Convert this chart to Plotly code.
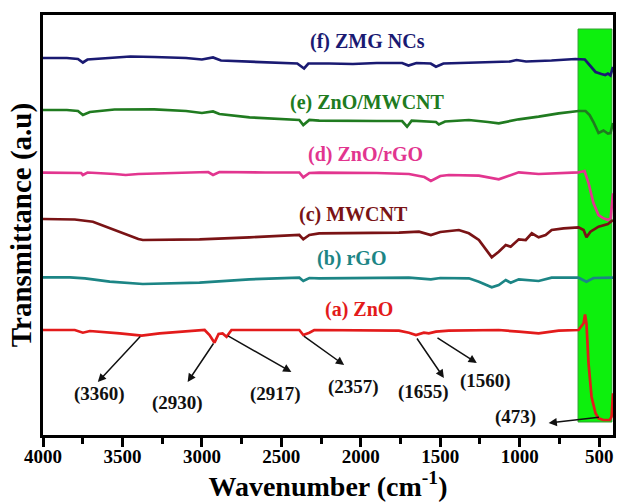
import plotly.graph_objects as go

# FTIR spectra (stacked, arbitrary transmittance units)
a_wn = [4000, 3800, 3749, 3705, 3517, 3379, 3266, 3077, 2983, 2952, 2921, 2895, 2870, 2845, 2814,
        2387, 2362, 2324, 2293, 1760, 1697, 1653, 1603, 1572, 1527, 1446, 1132, 1006, 881, 755,
        630, 598, 589, 580, 567, 548, 523, 504, 473, 433, 422, 413]
a_t = [105, 105, 102.3, 104, 101.7, 99.3, 101.7, 104.3, 105, 100, 92.3, 101, 101.5, 98.3, 105,
       105, 100, 102.3, 105, 104.3, 102.3, 100, 102.3, 101.7, 103.3, 104.3, 105, 103.3, 101.7, 104.3,
       105, 111.7, 120.5, 111.7, 71.7, 38.3, 21.7, 16.7, 15, 15, 18.3, 41.7]

b_wn = [4000, 3831, 3736, 3580, 3372, 3015, 2701, 2387, 2362, 2324, 2262, 1697, 1559, 1500, 1320,
        1257, 1176, 1132, 1088, 1057, 1006, 881, 799, 630, 580, 536, 413]
b_t = [157.7, 157.7, 156.7, 153.3, 151, 152.3, 155.7, 157.3, 154, 157, 156.7, 157.3, 155.7, 157, 156.7,
       153.3, 147.7, 150, 155, 152.3, 155.7, 154, 157.3, 157.3, 153.3, 157, 157.3]

c_wn = [4000, 3800, 3686, 3580, 3480, 3400, 3372, 3015, 2701, 2387, 2362, 2324, 2262, 1760, 1634,
        1559, 1500, 1383, 1320, 1257, 1176, 1132, 1088, 1057, 1006, 962, 924, 881, 837, 799, 724,
        630, 598, 580, 555, 504, 445, 413]
c_t = [216, 215.5, 213.3, 207, 200.5, 196, 195, 195.7, 197.7, 200, 195.7, 200, 201.7, 202.3, 203.3,
       200, 203, 205, 201.7, 195, 177.7, 183.3, 190, 188.3, 195.7, 195, 201.7, 197.7, 200, 205, 206.7,
       207.7, 205, 197.7, 203.3, 208.3, 211, 215]

d_wn = [4000, 3850, 3760, 3749, 3720, 3550, 3480, 3400, 3100, 2960, 2930, 2890, 2600, 2387, 2362,
        2324, 2262, 1900, 1697, 1600, 1559, 1500, 1446, 1257, 1132, 1060, 1006, 881, 700, 630, 592,
        567, 536, 504, 473, 445, 428, 413]
d_t = [262.3, 262.5, 262, 260, 262.5, 261, 260, 261, 262, 263, 260, 263, 262.5, 262.5, 257.7,
       262, 262.3, 262, 261, 258, 254, 259, 260, 259.3, 255.7, 260, 262.7, 261, 262, 262.7, 264,
       252, 232, 220, 216.7, 215, 216.7, 241.7]

e_wn = [4000, 3850, 3780, 3749, 3705, 3550, 3300, 3100, 3000, 2930, 2890, 2700, 2387, 2362, 2324,
        2262, 1900, 1740, 1709, 1680, 1527, 1509, 1470, 1320, 1200, 1132, 1006, 881, 755, 630, 586,
        560, 536, 504, 473, 445, 429, 413]
e_t = [325, 325, 324, 320, 323, 325.5, 325.7, 324, 322, 323.5, 321, 317.7, 315, 310, 315,
       314.3, 314, 314, 308.3, 314.3, 313, 310.5, 313.5, 315, 313, 311.7, 315.7, 318.3, 321.7, 324, 324,
       320, 313, 302, 304.5, 301.5, 302, 312]

f_wn = [4000, 3850, 3780, 3749, 3720, 3600, 3450, 3300, 3100, 3000, 2930, 2880, 2700, 2400, 2357,
        2330, 2200, 2050, 1900, 1740, 1700, 1650, 1560, 1527, 1480, 1300, 1150, 1060, 1020, 960,
        800, 650, 590, 560, 523, 486, 462, 445, 429, 413]
f_t = [377, 377, 376, 372.5, 375.5, 377, 378.5, 378, 377, 375.5, 377.5, 374.5, 373.5, 371.5, 366.5,
       371.5, 371.5, 371, 372, 372, 369.5, 372, 371.5, 368.3, 371.5, 372.5, 372.7, 373.5, 375, 373.5,
       374.5, 376, 375.5, 370, 363, 361, 360, 361.5, 359.5, 368]

series_names = ["(a) ZnO", "(b) rGO", "(c) MWCNT", "(d) ZnO/rGO", "(e) ZnO/MWCNT", "(f) ZMG NCs"]
series_colors = ["#e31b1b", "#1c8585", "#7a1315", "#e2358f", "#207b20", "#1a1a72"]
series_wn = [a_wn, b_wn, c_wn, d_wn, e_wn, f_wn]
series_t = [a_t, b_t, c_t, d_t, e_t, f_t]

# label anchor for each spectrum name (wavenumber, transmittance)
label_wn = [2011, 2061, 2048, 1973, 1960, 1960]
label_t = [126, 177, 221, 281, 333, 394]

# band assignments: label text, label position, arrow tail (on curve), arrow head
band_text = ["(3360)", "(2930)", "(2917)", "(2357)", "(1655)", "(1560)", "(473)"]
band_label_wn = [3642, 3153, 2538, 2048, 1603, 1213, 1025]
band_label_t = [41, 32.5, 41, 48, 43, 54, 18]
band_tail_wn = [3379, 2921, 2845, 2368, 1653, 1527, 492]
band_tail_t = [100, 93, 100, 100, 98, 98, 18]
band_head_wn = [3655, 3090, 2437, 2105, 1477, 1270, 818]
band_head_t = [53, 53, 63, 70, 57, 72, 12]

# highlighted Zn-O region
zone_wn = [633, 420]
zone_t = [13, 406]

x_ticks = [4000, 3500, 3000, 2500, 2000, 1500, 1000, 500]

FONT = "Liberation Serif"

fig = go.Figure()
for name, col, wn, t in zip(series_names, series_colors, series_wn, series_t):
    fig.add_trace(go.Scatter(x=wn, y=t, mode="lines", name=name,
                             line=dict(color=col, width=2.7), showlegend=False))

fig.add_shape(type="rect", xref="x", yref="y", x0=zone_wn[0], x1=zone_wn[1],
              y0=zone_t[0], y1=zone_t[1], fillcolor="#0df00d",
              line=dict(color="#33a033", width=1), layer="below")

for name, col, lx, ly in zip(series_names, series_colors, label_wn, label_t):
    fig.add_annotation(x=lx, y=ly, text=f"<b>{name}</b>", showarrow=False,
                       font=dict(family=FONT, size=20, color=col))

for txt, lx, ly, tx, ty, hx, hy in zip(band_text, band_label_wn, band_label_t,
                                        band_tail_wn, band_tail_t, band_head_wn, band_head_t):
    fig.add_annotation(x=hx, y=hy, ax=tx, ay=ty, axref="x", ayref="y", text="",
                       showarrow=True, arrowhead=2, arrowsize=1.1, arrowwidth=1.5,
                       arrowcolor="#111111")
    fig.add_annotation(x=lx, y=ly, text=f"<b>{txt}</b>", showarrow=False,
                       font=dict(family=FONT, size=19, color="#111111"))

fig.update_layout(
    width=619, height=504,
    margin=dict(l=43, r=3, t=15, b=69),
    plot_bgcolor="white", paper_bgcolor="white",
    font=dict(family=FONT, color="black"),
)
fig.update_xaxes(
    range=[4000, 413], tickmode="array", tickvals=x_ticks,
    ticktext=[f"<b>{v}</b>" for v in x_ticks],
    ticks="outside", ticklen=9, tickwidth=3, tickcolor="black",
    minor=dict(tick0=0, dtick=250, ticks="outside", ticklen=6, tickwidth=2.5, tickcolor="black"),
    showline=True, linewidth=3, linecolor="black", mirror=True,
    showgrid=False, zeroline=False, ticklabelstandoff=-7,
    tickfont=dict(family=FONT, size=19, color="black"),
    title=dict(text="<b>Wavenumber (cm<sup>-1</sup>)</b>", standoff=1,
               font=dict(family=FONT, size=28, color="black")),
)
fig.update_yaxes(
    range=[0, 420], showticklabels=False, ticks="",
    showline=True, linewidth=3, linecolor="black", mirror=True,
    showgrid=False, zeroline=False,
    title=dict(text="<b>Transmittance (a.u)</b>", standoff=0,
               font=dict(family=FONT, size=29, color="black")),
)

fig.write_html("out.html")
